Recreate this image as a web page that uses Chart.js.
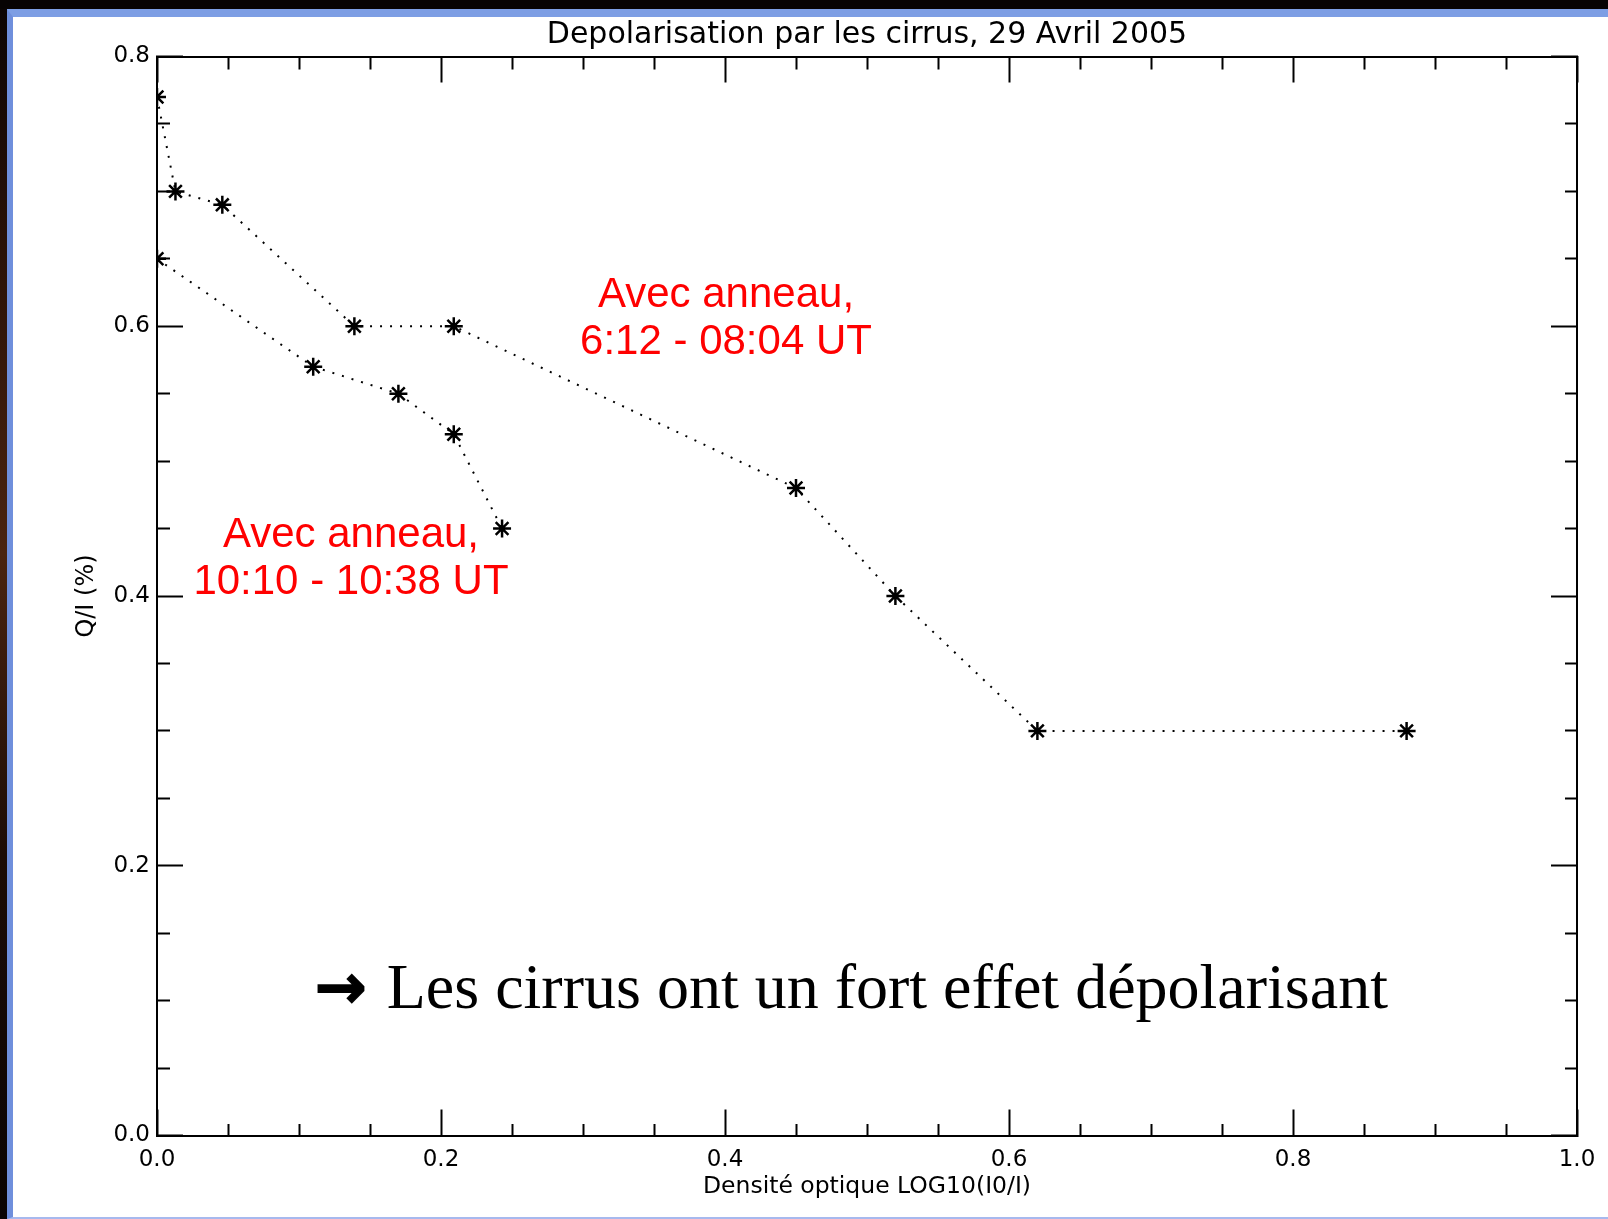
<!DOCTYPE html>
<html>
<head>
<meta charset="utf-8">
<script src="https://cdn.jsdelivr.net/npm/chart.js@4.4.1/dist/chart.umd.min.js"></script>
<style>
  body { margin: 0; background: #070303; width: 1608px; height: 1219px; overflow: hidden; position: relative; }
  #strip { position: absolute; left: 0; top: 9px; width: 7px; bottom: 0;
           background: linear-gradient(to bottom, #0c0504 0%, #2a1208 20%, #4a2410 45%, #1c0c06 70%, #0a0404 100%); }
  #frame { position: absolute; left: 7px; top: 9px; right: 0; bottom: 0; box-sizing: border-box;
           background: #fff; border-left: 6px solid #6f8fdc; border-top: 8px solid #7d9ee4; border-bottom: 2px solid #a7b9ee; }
  #c { position: absolute; left: 0; top: 0; }
</style>
</head>
<body>
<div id="strip"></div>
<div id="frame"></div>
<canvas id="c" width="1608" height="1219"></canvas>
<script>
// 6:12 - 08:04 UT
const densityEarly = [0.0, 0.013, 0.046, 0.139, 0.209, 0.45, 0.52, 0.62, 0.88];
const ratioEarly   = [0.77, 0.70, 0.69, 0.60, 0.60, 0.48, 0.40, 0.30, 0.30];
// 10:10 - 10:38 UT
const densityLate = [0.0, 0.11, 0.17, 0.209, 0.243];
const ratioLate   = [0.65, 0.57, 0.55, 0.52, 0.45];

const xMajor = [0.0, 0.2, 0.4, 0.6, 0.8, 1.0];
const yMajor = [0.0, 0.2, 0.4, 0.6, 0.8];

const notes = [
  { x: 0.4007, y: 0.6056, lines: ['Avec anneau,', '6:12 - 08:04 UT'], color: '#ff0000', font: '42px "Liberation Sans"', lh: 47, base: 'middle' },
  { x: 0.1366, y: 0.4276, lines: ['Avec anneau,', '10:10 - 10:38 UT'], color: '#ff0000', font: '42px "Liberation Sans"', lh: 47, base: 'middle' },
  { x: 0.489, y: 0.0945, lines: ['Les cirrus ont un fort effet d\u00e9polarisant'], color: '#000', font: '64px "Liberation Serif"', lh: 70, base: 'alphabetic',
    prefix: { text: '\u2192', font: 'bold 62px "DejaVu Sans"', gap: 20 } }
];

function toPts(xs, ys) { return xs.map((x, i) => ({ x: x, y: ys[i] })); }
function isMajor(v, list) { return list.some(m => Math.abs(m - v) < 1e-6); }

Chart.defaults.color = '#000';
Chart.defaults.font.family = '"DejaVu Sans"';

const MAJ = 26, MIN = 13;
// tick marks point inward; minor ones are cut to the border half with a dash
const dashIn = (list) => (ctx) => isMajor(ctx.tick.value, list) ? [] : [0, MAJ - MIN, MIN, 200];
const dashOut = (list) => (ctx) => isMajor(ctx.tick.value, list) ? [] : [MIN, 200];

function gridOpts(dash) {
  return { drawOnChartArea: false, drawTicks: true, tickLength: -MAJ, tickColor: '#000', tickWidth: 2, tickBorderDash: dash };
}
const border = { display: true, color: '#000', width: 2 };

const notePlugin = {
  id: 'notes',
  afterDatasetsDraw(chart) {
    const { ctx, scales } = chart;
    ctx.save();
    notes.forEach(n => {
      let px = scales.x.getPixelForValue(n.x);
      const py = scales.y.getPixelForValue(n.y);
      ctx.textBaseline = n.base;
      ctx.fillStyle = n.color;
      ctx.strokeStyle = n.color;
      if (n.prefix) {
        ctx.font = n.font;
        const w = ctx.measureText(n.lines[0]).width;
        ctx.font = n.prefix.font;
        const aw = ctx.measureText(n.prefix.text).width;
        const start = px - (aw + n.prefix.gap + w) / 2;
        ctx.textAlign = 'left';
        ctx.lineWidth = 1.5;
        ctx.fillText(n.prefix.text, start, py);
        ctx.strokeText(n.prefix.text, start, py);
        px = start + aw + n.prefix.gap + w / 2;
      }
      ctx.font = n.font;
      ctx.textAlign = 'center';
      const y0 = py - (n.lines.length - 1) * n.lh / 2;
      n.lines.forEach((t, i) => ctx.fillText(t, px, y0 + i * n.lh));
    });
    ctx.restore();
  }
};

const lineStyle = {
  borderColor: '#000', borderWidth: 2, borderDash: [2, 8], tension: 0, fill: false,
  pointStyle: 'star', pointRadius: 9, pointBorderWidth: 2.5, pointBorderColor: '#000', pointBackgroundColor: '#000'
};

const noSidePad = s => { s.paddingLeft = 0; s.paddingRight = 0; };

new Chart(document.getElementById('c'), {
  type: 'line',
  data: {
    datasets: [
      Object.assign({ label: '6:12 - 08:04 UT', data: toPts(densityEarly, ratioEarly) }, lineStyle),
      Object.assign({ label: '10:10 - 10:38 UT', data: toPts(densityLate, ratioLate) }, lineStyle)
    ]
  },
  options: {
    responsive: false,
    animation: false,
    layout: { padding: 0 },
    plugins: {
      legend: { display: false },
      tooltip: { enabled: false },
      title: {
        display: true,
        fullSize: false,
        text: 'Depolarisation par les cirrus, 29 Avril 2005',
        font: { size: 30, weight: 'normal', family: '"DejaVu Sans"' },
        color: '#000',
        padding: { top: 17, bottom: 0 }
      }
    },
    scales: {
      x: {
        type: 'linear', position: 'bottom', min: 0, max: 1,
        border: border,
        grid: gridOpts(dashOut(xMajor)),
        ticks: { stepSize: 0.05, autoSkip: false, maxRotation: 0, padding: 37,
                 font: { size: 23 }, callback: v => isMajor(v, xMajor) ? v.toFixed(1) : '' },
        title: { display: true, text: 'Densit\u00e9 optique LOG10(I0/I)', font: { size: 23.5 }, padding: { top: 0, bottom: 18 } },
        afterFit: s => { s.height = 83.5; noSidePad(s); }
      },
      x2: {
        type: 'linear', position: 'top', min: 0, max: 1,
        border: border,
        grid: gridOpts(dashIn(xMajor)),
        ticks: { stepSize: 0.05, autoSkip: false, display: false },
        afterFit: s => { s.height = 3.5; noSidePad(s); }
      },
      y: {
        type: 'linear', position: 'left', min: 0, max: 0.8,
        border: border,
        grid: gridOpts(dashIn(yMajor)),
        ticks: { stepSize: 0.05, autoSkip: false, padding: 33,
                 font: { size: 23 }, callback: v => isMajor(v, yMajor) ? v.toFixed(1) : '' },
        title: { display: true, text: 'Q/I (%)', font: { size: 24 }, padding: { top: 72, bottom: 0 } },
        afterFit: s => { s.width = 157; }
      },
      y2: {
        type: 'linear', position: 'right', min: 0, max: 0.8,
        border: border,
        grid: gridOpts(dashOut(yMajor)),
        ticks: { stepSize: 0.05, autoSkip: false, display: false },
        afterFit: s => { s.width = 31; }
      }
    }
  },
  plugins: [notePlugin]
});
</script>
</body>
</html>
